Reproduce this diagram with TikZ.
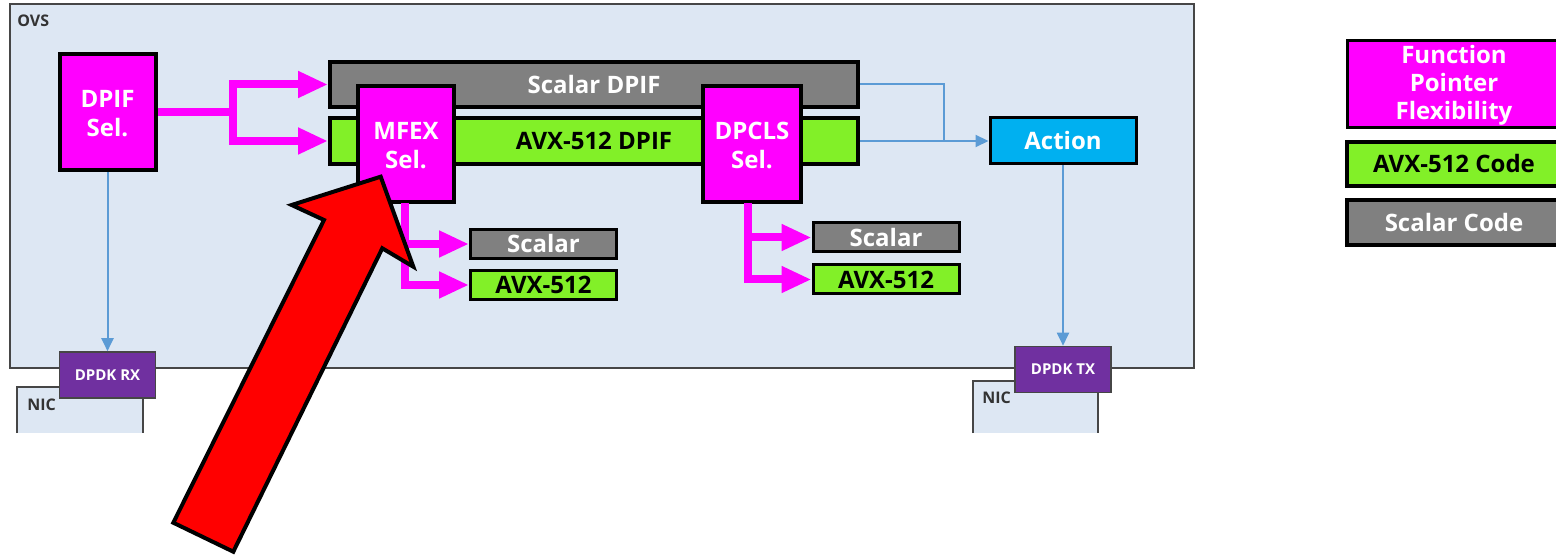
\documentclass[tikz,border=0pt]{standalone}
\usepackage{fontspec}
\setmainfont{Open Sans}
\usetikzlibrary{arrows.meta,calc}
\definecolor{ovsbg}{RGB}{221,231,243}
\definecolor{framec}{RGB}{70,70,70}
\definecolor{mag}{RGB}{255,0,255}
\definecolor{scal}{RGB}{128,128,128}
\definecolor{avx}{RGB}{130,240,40}
\definecolor{act}{RGB}{0,176,240}
\definecolor{dpdk}{RGB}{112,48,160}
\definecolor{conn}{RGB}{91,155,213}
\tikzset{
  blk/.style={draw=black, line width=2pt, inner sep=0pt, align=center,
    font=\bfseries\fontsize{12}{14}\selectfont},
  selbox/.style={blk, fill=mag, text=white, minimum width=48pt, minimum height=58pt,
    font=\bfseries\fontsize{12}{14.5}\selectfont},
  scalbox/.style={blk, fill=scal, text=white},
  avxbox/.style={blk, fill=avx, text=black},
  smallbox/.style={line width=1.5pt, minimum width=73pt, minimum height=14.5pt},
  dpdkbox/.style={draw=framec, line width=0.8pt, fill=dpdk, text=white, inner sep=0pt,
    minimum width=48pt, minimum height=23pt, font=\bfseries\fontsize{7.5}{9}\selectfont},
  legbox/.style={blk, line width=1.5pt, minimum width=107pt},
  smalllabel/.style={inner sep=0pt, anchor=west, text=black!80,
    font=\bfseries\fontsize{8}{9}\selectfont},
  magline/.style={draw=mag, line width=4pt},
  magarrow/.style={magline, -{Triangle[length=15pt,width=12.5pt]}},
  bline/.style={draw=conn, line width=1pt},
  barrow/.style={bline, -{Triangle[length=6.5pt,width=6pt]}},
}
\begin{document}
\begin{tikzpicture}[x=0.5pt, y=-0.5pt]
\useasboundingbox (0,0) rectangle (1556,555);
\clip (0,0) rectangle (1556,555);
% OVS frame
\fill[white] (0,0) rectangle (1556,555);
\draw[draw=framec, fill=ovsbg, line width=1pt] (10,4) rectangle (1194,368);
\node[smalllabel] (ovs) at (17,21) {OVS};
% NIC boxes (cut at the bottom)
\draw[draw=framec, fill=ovsbg, line width=1pt] (17,433) -- (17,387) -- (143,387) -- (143,433);
\node[smalllabel] (nicl) at (27,405) {NIC};
\draw[draw=framec, fill=ovsbg, line width=1pt] (973,433) -- (973,381) -- (1098,381) -- (1098,433);
\node[smalllabel] (nicr) at (982,398) {NIC};
% DPIF boxes
\node[scalbox, minimum width=264pt, minimum height=22.5pt] (sdpif) at (594,84.5) {Scalar DPIF};
\node[avxbox, minimum width=264pt, minimum height=23pt] (adpif) at (594,141) {AVX-512 DPIF};
% selectors
\node[selbox] (dpif) at (107.5,112) {\strut DPIF\\Sel.};
\node[selbox] (mfex) at (406,144) {\strut MFEX\\Sel.};
\node[selbox, minimum width=49pt] (dpcls) at (752,144) {\strut DPCLS\\Sel.};
% implementations
\node[scalbox, smallbox] (scall) at (543.5,244) {Scalar};
\node[avxbox, smallbox] (avxl) at (543.5,285) {AVX-512};
\node[scalbox, smallbox] (scalr) at (886,237.5) {Scalar};
\node[avxbox, smallbox] (avxr) at (886,279.5) {AVX-512};
% action
\node[blk, line width=1.5pt, fill=act, text=white, minimum width=73pt, minimum height=23pt] (action) at (1063,141) {Action};
% DPDK
\node[dpdkbox] (rx) at (107.5,375) {DPDK RX};
\node[dpdkbox] (tx) at (1063,369.5) {DPDK TX};
% legend
\node[legbox, fill=mag, text=white, minimum height=43.5pt] (lfp) at (1454,84.5) {\strut Function\\Pointer\\Flexibility};
\node[legbox, avxbox, minimum height=22pt] (lavx) at (1454,164) {AVX-512 Code};
\node[legbox, scalbox, minimum height=22.5pt] (lscal) at (1454,222.5) {Scalar Code};
% magenta connectors
\coordinate (mj) at (232.5,112);
\draw[magline] (dpif.east) -- (mj);
\draw[magarrow] (mj) |- (sdpif.west);
\draw[magarrow] (mj) |- (adpif.west);
\coordinate (mfj) at (405,203);
\draw[magarrow] (mfj) |- (scall.west);
\draw[magarrow] (mfj) |- (avxl.west);
\coordinate (dcj) at (748,203);
\draw[magarrow] (dcj) |- (scalr.west);
\draw[magarrow] (dcj) |- (avxr.west);
% blue connectors
\coordinate (bj) at (944,141);
\draw[bline] (sdpif.east) -| (bj);
\draw[barrow] (adpif.east) -- (action.west);
\draw[barrow] (dpif.south) -- (rx.north);
\draw[barrow] (action.south) -- (tx.north);
% red pointer arrow
\draw[draw=black, fill=red, line width=2pt, line join=miter]
  (380.7,176.7) -- (413.3,266.7) -- (382.3,248.3) -- (233.3,551.7)
  -- (173.3,522.7) -- (324,220) -- (291.7,205) -- cycle;
\end{tikzpicture}
\end{document}
